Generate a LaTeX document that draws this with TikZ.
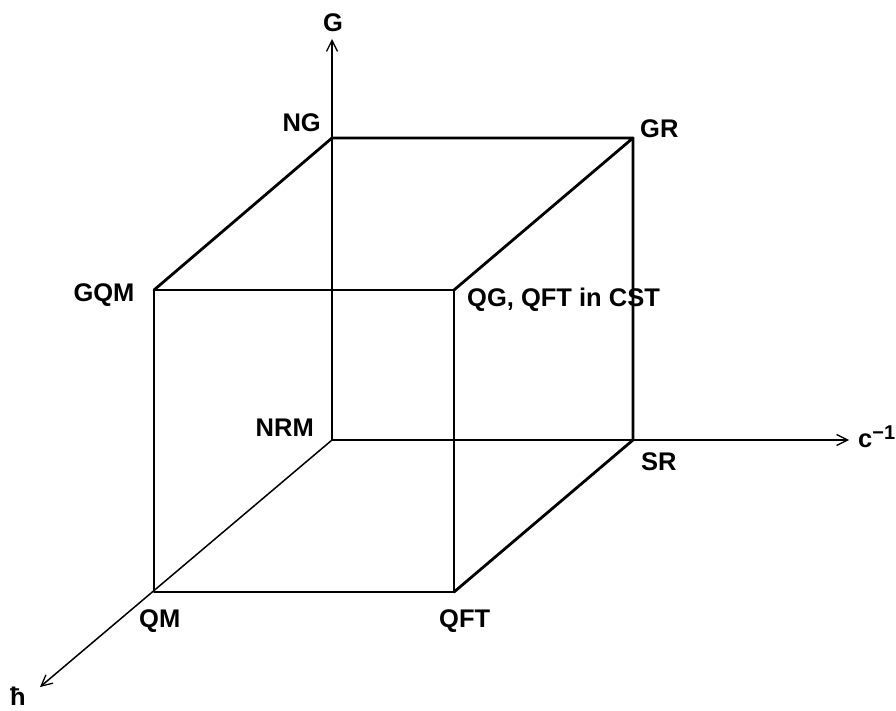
\documentclass[tikz,border=0pt]{standalone}
\usepackage{fontspec}
\setmainfont{Liberation Sans}
\usetikzlibrary{arrows.meta}
\begin{document}
\begin{tikzpicture}[x=1pt,y=1pt,
  edge/.style={line width=2.8pt,line cap=round,line join=round},
  axis/.style={line width=1.5pt,-{Straight Barb[length=11pt,width=11pt,line width=1.3pt]}},
  lbl/.style={inner sep=0pt,font=\fontsize{25.5}{30}\selectfont\bfseries}]
\useasboundingbox (0,0) rectangle (896,710);
% corners
\coordinate (NRM) at (332,270);
\coordinate (NG) at (332,572);
\coordinate (GR) at (633,572);
\coordinate (SR) at (633,270);
\coordinate (GQM) at (154,420);
\coordinate (QG) at (454,420);
\coordinate (QM) at (154,118);
\coordinate (QFT) at (454,118);
\coordinate (Gtip) at (332,671);
\coordinate (ctip) at (849,270);
\coordinate (htip) at (40,23);
% axes
\draw[axis] (NRM) -- (Gtip);
\draw[axis] (NRM) -- (ctip);
\draw[axis] (NRM) -- (htip);
% cube edges
\draw[edge] (QM) -- (QFT) -- (QG) -- (GQM) -- cycle;
\draw[edge] (GQM) -- (NG) -- (GR) -- (QG);
\draw[edge] (GR) -- (SR) -- (QFT);
% labels
\node[lbl,anchor=base] (lG) at (333,678) {G};
\node[lbl,anchor=base east] (lNG) at (321,578) {NG};
\node[lbl,anchor=base west] (lGR) at (640,572) {GR};
\node[lbl,anchor=base] (lGQM) at (104,408) {GQM};
\node[lbl,anchor=base west] (lQG) at (467,403) {QG, QFT in CST};
\node[lbl,anchor=base east] (lNRM) at (314,273) {NRM};
\node[lbl,anchor=base west] (lc) at (858,262) {c\raisebox{9pt}{\fontsize{20}{24}\selectfont −1}};
\node[lbl,anchor=base west] (lSR) at (641,240) {SR};
\node[lbl,anchor=base west] (lQM) at (139,83) {QM};
\node[lbl,anchor=base west] (lQFT) at (439,83) {QFT};
\node[lbl,anchor=base west] (lh) at (10,5) {ħ};
\end{tikzpicture}
\end{document}
